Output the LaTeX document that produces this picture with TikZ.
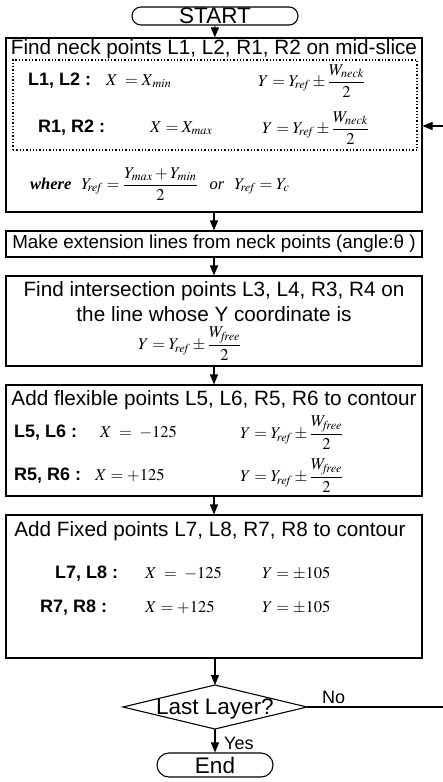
\documentclass[tikz,border=0pt]{standalone}
\usepackage{mathptmx}
\usepackage[no-math]{fontspec}
\setmainfont{Liberation Sans}
\newfontfamily\tms{Liberation Serif}
\usetikzlibrary{arrows.meta,shapes.misc}
\newcommand\ttl{\fontsize{20.7}{24}\selectfont}
\newcommand\bigtxt{\fontsize{22.5}{25}\selectfont}
\newcommand\lab{\fontsize{18}{21}\selectfont\bfseries}
\newcommand\fml{\fontsize{16.5}{19}\selectfont}
\begin{document}
\begin{tikzpicture}[x=1pt,y=-1pt,
  box/.style={draw, line width=1.1pt, inner sep=0pt},
  term/.style={draw, line width=1.1pt, rounded rectangle, inner sep=0pt, font=\bigtxt},
  dotbox/.style={draw, dotted, line width=1.3pt, inner sep=0pt},
  arr/.style={-{Triangle[length=10pt,width=8pt]}, line width=1.1pt},
  plain/.style={line width=1.1pt},
  txt/.style={inner sep=0pt, font=\ttl},
  lbl/.style={inner sep=0pt, anchor=west, font=\lab},
  fm/.style={inner sep=0pt, anchor=west, font=\fml}]
\useasboundingbox (0,0) rectangle (443,782);
% START
\node[term, minimum width=166, minimum height=18] (start) at (215,16) {START};
% box 1
\node[box, minimum width=416, minimum height=174] (b1) at (214,125) {};
\node[txt] (t1) at (214,49) {Find neck points L1, L2, R1, R2 on mid-slice};
\node[dotbox, minimum width=404, minimum height=90] (dot) at (215,105) {};
\node[lbl] (l12) at (28,81) {L1, L2 :};
\node[fm] (l12x) at (106,81) {$X\;=X_{\,\mathit{min}}$};
\node[fm] (l12y) at (258,81) {$Y=Y_{\!\mathit{ref}}\pm\displaystyle\frac{W_{\mathit{neck}}}{2}$};
\node[lbl] (r12) at (38,128) {R1, R2 :};
\node[fm] (r12x) at (150,128) {$X=X_{\mathit{max}}$};
\node[fm] (r12y) at (262,128) {$Y=Y_{\!\mathit{ref}}\pm\displaystyle\frac{W_{\mathit{neck}}}{2}$};
\node[fm] (wh) at (30,184) {\textit{\textbf{\tms where}}\hspace{10pt}$Y_{\!\mathit{ref}}=\displaystyle\frac{Y_{\mathit{max}}+Y_{\mathit{min}}}{2}$\hspace{12pt}\textit{\tms or}\hspace{10pt}$Y_{\!\mathit{ref}}=Y_c$};
% box 2
\node[box, minimum width=416, minimum height=26] (b2) at (214,244) {};
\node[txt, font=\fontsize{18.8}{21}\selectfont] (t2) at (214,244) {Make extension lines from neck points (angle:θ )};
% box 3
\node[box, minimum width=416, minimum height=90] (b3) at (214,321) {};
\node[txt] (t3a) at (214,291) {Find intersection points L3, L4, R3, R4 on};
\node[txt] (t3b) at (214,314) {the line whose Y coordinate is};
\node[fm] (t3c) at (138,344) {$Y=Y_{\!\mathit{ref}}\pm\displaystyle\frac{W_{\mathit{free}}}{2}$};
% box 4
\node[box, minimum width=416, minimum height=111] (b4) at (214,440.5) {};
\node[txt] (t4) at (214,400) {Add flexible points L5, L6, R5, R6 to contour};
\node[lbl] (l56) at (14,433) {L5, L6 :};
\node[fm] (l56x) at (100,433) {$X\;=\;-125$};
\node[fm] (l56y) at (240,433) {$Y=Y_{\!\mathit{ref}}\pm\displaystyle\frac{W_{\mathit{free}}}{2}$};
\node[lbl] (r56) at (14,476) {R5, R6 :};
\node[fm] (r56x) at (95,476) {$X=+125$};
\node[fm] (r56y) at (240,476) {$Y=Y_{\!\mathit{ref}}\pm\displaystyle\frac{W_{\mathit{free}}}{2}$};
% box 5
\node[box, minimum width=416, minimum height=143] (b5) at (214,586.5) {};
\node[txt] (t5) at (210,531) {Add Fixed points L7, L8, R7, R8 to contour};
\node[lbl] (l78) at (55,574) {L7, L8 :};
\node[fm] (l78x) at (145,574) {$X\;=\;-125$};
\node[fm] (l78y) at (262,574) {$Y=\pm 105$};
\node[lbl] (r78) at (40,608) {R7, R8 :};
\node[fm] (r78x) at (145,608) {$X=+125$};
\node[fm] (r78y) at (262,608) {$Y=\pm 105$};
% decision
\coordinate (dT) at (215,685);
\coordinate (dB) at (215,729);
\coordinate (dL) at (123,707);
\coordinate (dR) at (307,707);
\draw[plain] (dT) -- (dR) -- (dB) -- (dL) -- cycle;
\node[txt, font=\bigtxt] (dec) at (215,709) {Last Layer?};
% end
\node[term, minimum width=116, minimum height=24] (end) at (215,765) {End};
% connectors
\draw[arr] (start) -- (b1);
\draw[arr] (b1) -- (b2);
\draw[arr] (b2) -- (b3);
\draw[arr] (b3) -- (b4);
\draw[arr] (b4) -- (b5);
\draw[arr] (b5.south -| dT) -- (dT);
\draw[arr] (dB) -- (end);
\coordinate (noend) at (443,707);
\draw[plain] (dR) -- (noend);
\node[txt, font=\fontsize{18}{20}\selectfont, anchor=south west] (no) at (322,704) {No};
\node[txt, font=\fontsize{18}{20}\selectfont, anchor=west] (yes) at (224,743) {Yes};
\coordinate (fb) at (443,126);
\draw[arr] (fb) -- (b1.east |- fb);
\end{tikzpicture}
\end{document}
